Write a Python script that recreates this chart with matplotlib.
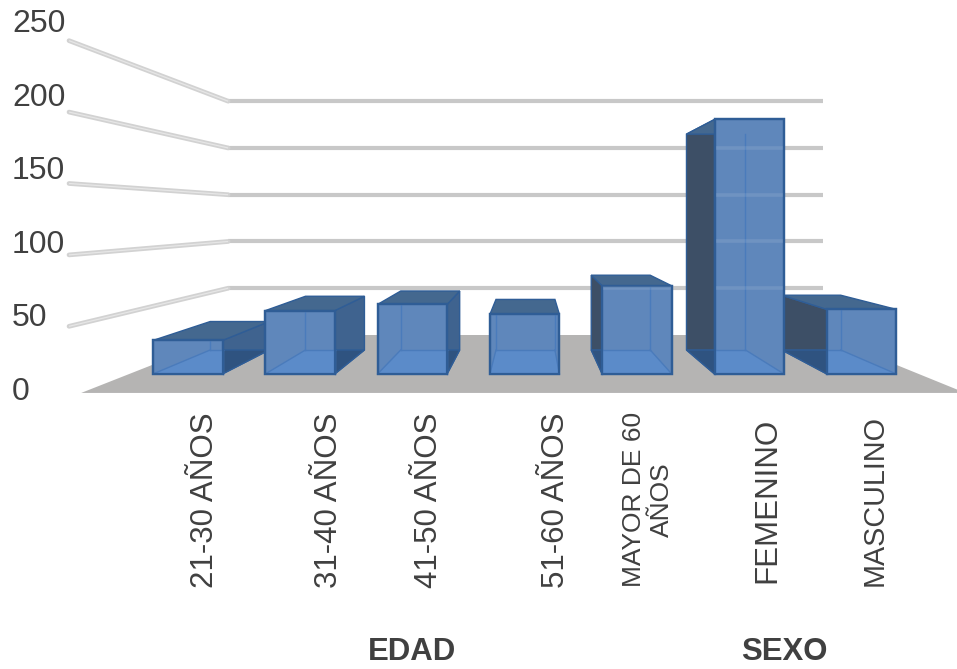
import matplotlib
matplotlib.use("Agg")
import matplotlib.pyplot as plt
from matplotlib.patches import Polygon

plt.rcParams['font.family'] = ['Liberation Sans', 'DejaVu Sans']

# Survey counts by age band and by sex
categories = ['21-30 AÑOS', '31-40 AÑOS', '41-50 AÑOS', '51-60 AÑOS',
              'MAYOR DE 60\nAÑOS', 'FEMENINO', 'MASCULINO']
values = [27, 51, 56, 48, 71, 205, 52]
axis_ticks = [0, 50, 100, 150, 200, 250]
group_labels = ['EDAD', 'SEXO']

W, H = 957, 669

# One-point perspective: vanishing point, picture-plane scale and depth factors
VX, VY = 530.0, 216.0
Y_ZERO, PX_PER_UNIT = 400.5, 1.45
WALL_LEFT, WALL_RIGHT = 62.0, 984.0
S_WALL = 0.645
S_WALL_FRONT = 0.985
S_FLOOR_FRONT = 0.959
S_BAR_FRONT, S_BAR_BACK = 0.856, 0.726
BAR_X0, BAR_STEP, BAR_WIDTH = 153.0, 112.3, 69.5


def project(x, value, s):
    """Map a picture-plane x and a value to the canvas at depth factor s."""
    y = Y_ZERO - PX_PER_UNIT * value
    return VX + s * (x - VX), VY + s * (y - VY)


def unfront(px):
    """Picture-plane x of a canvas x measured on the bars' front plane."""
    return VX + (px - VX) / S_BAR_FRONT


fig = plt.figure(figsize=(W / 100, H / 100), dpi=100)
ax = fig.add_axes([0, 0, 1, 1])
ax.set_xlim(0, W)
ax.set_ylim(H, 0)
ax.axis('off')

# Floor
ax.add_patch(Polygon([project(WALL_LEFT, 0, S_WALL), project(WALL_RIGHT, 0, S_WALL),
                      project(WALL_RIGHT, 0, S_FLOOR_FRONT), project(WALL_LEFT, 0, S_FLOOR_FRONT)],
                     closed=True, fc='#b5b4b3', ec='none', zorder=1))

# Gridlines along the back wall and the left wall
for v in axis_ticks[1:]:
    bx0, by = project(WALL_LEFT, v, S_WALL)
    bx1, _ = project(WALL_RIGHT, v, S_WALL)
    fx, fy = project(WALL_LEFT, v, S_WALL_FRONT)
    ax.plot([bx0, bx1], [by, by], color='#c8c8c8', lw=3.0, solid_capstyle='butt', zorder=2)
    ax.plot([fx, bx0], [fy, by], color='#d2d2d2', lw=3.4, solid_capstyle='round', zorder=2)
    ax.plot([fx, bx0], [fy, by], color='#e6e6e6', lw=0.9, solid_capstyle='butt', zorder=2)

# Bars, painted so nearer faces cover the ones they overlap
FRONT, FRONT_FLOOR = '#5f87bb', '#5b8bc9'
SIDE_RIGHT, SIDE_LEFT = '#3f638f', '#3d4f66'
TOP, UNDERSIDE = '#44688f', '#2f5380'
EDGE, INNER = '#2f5d96', '#4a7bbb'
paint_order = [0, 1, 2, 3, 6, 5, 4]
for idx in paint_order:
    z = 3 + paint_order.index(idx)
    val = values[idx]
    x0 = unfront(BAR_X0 + BAR_STEP * idx)
    x1 = unfront(BAR_X0 + BAR_STEP * idx + BAR_WIDTH)
    fbl, fbr = project(x0, 0, S_BAR_FRONT), project(x1, 0, S_BAR_FRONT)
    ftl, ftr = project(x0, val, S_BAR_FRONT), project(x1, val, S_BAR_FRONT)
    bbl, bbr = project(x0, 0, S_BAR_BACK), project(x1, 0, S_BAR_BACK)
    btl, btr = project(x0, val, S_BAR_BACK), project(x1, val, S_BAR_BACK)

    def face(pts, fc, ec=EDGE, lw=1.0):
        ax.add_patch(Polygon(pts, closed=True, fc=fc, ec=ec, lw=lw, zorder=z))

    if fbl[0] > VX:
        face([fbl, bbl, btl, ftl], SIDE_LEFT)
    if fbr[0] < VX:
        face([fbr, bbr, btr, ftr], SIDE_RIGHT)
    face([fbl, fbr, bbr, bbl], UNDERSIDE)
    face([ftl, ftr, btr, btl], TOP)
    face([fbl, fbr, ftr, ftl], FRONT, lw=1.6)

    # Faces seen through the translucent front
    inner_left = max(bbl[0], fbl[0])
    inner_right = min(bbr[0], fbr[0])
    clip_y = bbl[1]
    face([fbl, fbr, (inner_right, clip_y), (inner_left, clip_y)], FRONT_FLOOR, ec='none', lw=0)
    ax.plot([inner_left, inner_right], [clip_y, clip_y], color=INNER, lw=1.0, zorder=z)
    ax.plot([fbl[0], inner_left], [fbl[1], clip_y], color=INNER, lw=1.0, zorder=z)
    ax.plot([fbr[0], inner_right], [fbr[1], clip_y], color=INNER, lw=1.0, zorder=z)
    for px in (bbl[0], bbr[0]):
        if fbl[0] < px < fbr[0]:
            ax.plot([px, px], [max(btl[1], ftl[1]), clip_y], color=INNER, lw=1.0, zorder=z)
    ax.add_patch(Polygon([fbl, fbr, ftr, ftl], closed=True, fill=False, ec=EDGE, lw=1.6, zorder=z))

    # Back-wall gridlines showing faintly through the front
    for v in axis_ticks[1:]:
        _, gy = project(WALL_LEFT, v, S_WALL)
        if ftl[1] < gy < fbl[1]:
            ax.plot([fbl[0] + 1, fbr[0] - 1], [gy, gy], color='white', alpha=0.10, lw=2.6,
                    solid_capstyle='butt', zorder=z)

# Value axis labels
for v in axis_ticks:
    ax.text(12, 400 - 1.472 * v, str(v), fontsize=23, color='#404040',
            ha='left', va='baseline', zorder=20)

# Category labels
label_x = [205, 329, 429, 556, 648, 767, 875]
label_top = [413, 413, 413, 413, 412, 418, 415]
label_size = [22.5, 22.5, 22.5, 22.5, 19, 22.5, 20.7]
for name, lx, ly, fs in zip(categories, label_x, label_top, label_size):
    ax.text(lx, ly, name, rotation=90, fontsize=fs, color='#404040',
            ha='center', va='top', multialignment='center', linespacing=1.0 if '\n' not in name else 1.22,
            zorder=20)

# Group labels
for name, gx in zip(group_labels, [412, 784]):
    ax.text(gx, 660.5, name, fontsize=22.4, fontweight='bold', color='#404040',
            ha='center', va='baseline', zorder=20)

fig.savefig('out.png', dpi=100)
